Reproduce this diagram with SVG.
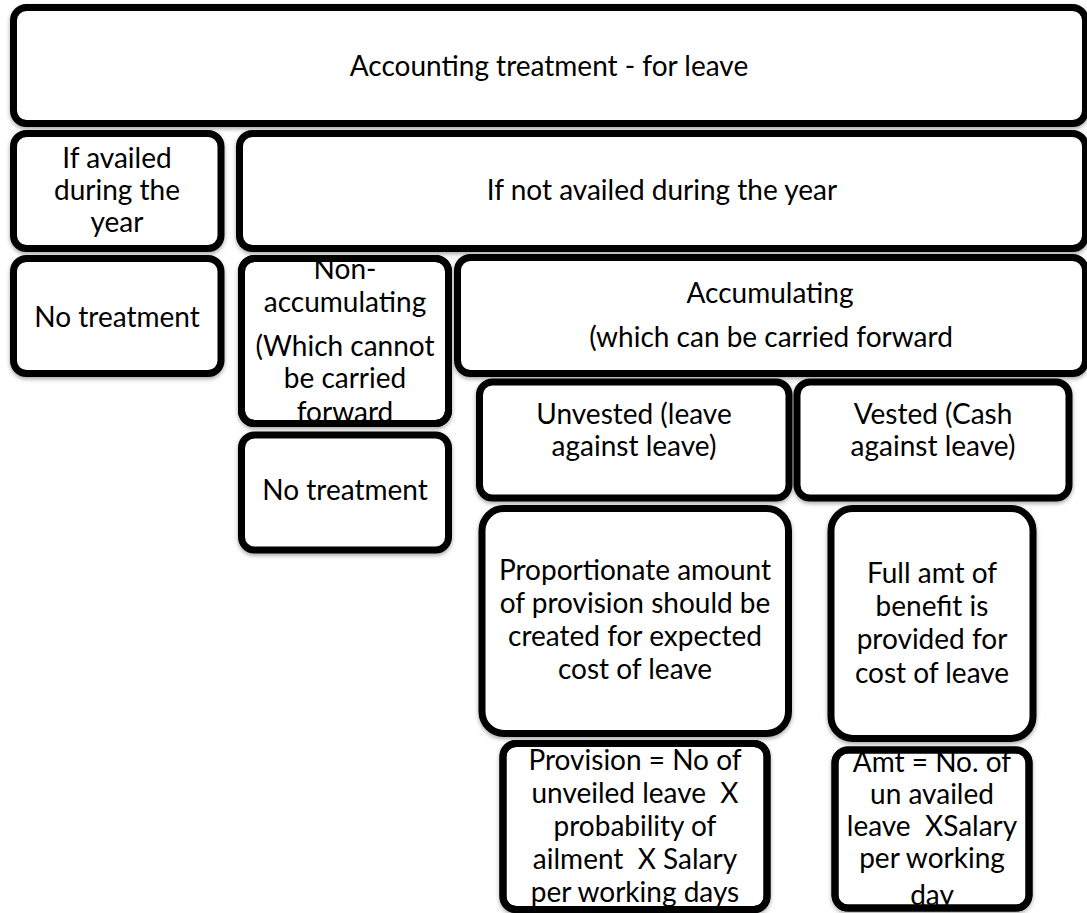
<svg xmlns="http://www.w3.org/2000/svg" width="1087" height="913" viewBox="0 0 1087 913">
<defs>
<filter id="sh" x="-5%" y="-5%" width="110%" height="115%">
<feDropShadow dx="0" dy="2" stdDeviation="2" flood-color="#000" flood-opacity="0.35"/>
</filter>
<style>
.bg{fill:#fff;stroke:#000;stroke-width:7;filter:url(#sh)}
.bd{fill:none;stroke:#000;stroke-width:7}
text{font-family:Lato,"Open Sans","Liberation Sans",sans-serif;font-size:28px;fill:#000;text-anchor:middle;white-space:pre}
</style>
</defs>
<rect width="1087" height="913" fill="#fff"/>
<g id="connectors"/>
<g id="n-top">
<rect class="bg" x="13.5" y="7.5" width="1072" height="116" rx="13"/>
<text x="549" y="76">Accounting treatment - for leave</text>
</g>
<g id="n-availed">
<rect class="bg" x="13.5" y="133.5" width="207.5" height="115" rx="13"/>
<text x="117" y="168">If availed</text>
<text x="117" y="200">during the</text>
<text x="117" y="232">year</text>
</g>
<g id="n-notavailed">
<rect class="bg" x="239.5" y="133.5" width="846" height="115" rx="13"/>
<text x="662" y="200">If not availed during the year</text>
</g>
<g id="n-notreat1">
<rect class="bg" x="13.5" y="258.5" width="207.5" height="115" rx="13"/>
<text x="117" y="327">No treatment</text>
</g>
<g id="n-nonacc">
<rect class="bg" x="241.5" y="258.5" width="207" height="165" rx="13"/>
<text x="345" y="279">Non-</text>
<text x="345" y="312">accumulating</text>
<text x="345" y="356">(Which cannot</text>
<text x="345" y="388">be carried</text>
<text x="345" y="422">forward</text>
<rect class="bd" x="241.5" y="258.5" width="207" height="165" rx="13"/>
</g>
<g id="n-notreat2">
<rect class="bg" x="241.5" y="435" width="207" height="115" rx="13"/>
<text x="345" y="500">No treatment</text>
</g>
<g id="n-acc">
<rect class="bg" x="457.5" y="257.5" width="628" height="116" rx="13"/>
<text x="770" y="303">Accumulating</text>
<text x="771" y="347">(which can be carried forward</text>
</g>
<g id="n-unvested">
<rect class="bg" x="479.5" y="382" width="309.5" height="116" rx="13"/>
<text x="634" y="424">Unvested (leave</text>
<text x="634" y="456">against leave)</text>
</g>
<g id="n-vested">
<rect class="bg" x="797" y="382" width="272" height="116" rx="13"/>
<text x="933" y="424">Vested (Cash</text>
<text x="933" y="456">against leave)</text>
</g>
<g id="n-proportionate">
<rect class="bg" x="482" y="508.5" width="306.5" height="225" rx="22"/>
<text x="635" y="580">Proportionate amount</text>
<text x="635" y="613">of provision should be</text>
<text x="635" y="646">created for expected</text>
<text x="635" y="679">cost of leave</text>
</g>
<g id="n-fullamt">
<rect class="bg" x="831" y="508.5" width="202" height="230" rx="22"/>
<text x="932" y="583">Full amt of</text>
<text x="932" y="616">benefit is</text>
<text x="932" y="649">provided for</text>
<text x="932" y="683">cost of leave</text>
</g>
<g id="n-provision">
<rect class="bg" x="503" y="743.5" width="264" height="166" rx="13"/>
<text x="635" y="770">Provision = No of</text>
<text x="635" y="803" xml:space="preserve">unveiled leave  X</text>
<text x="635" y="836">probability of</text>
<text x="635" y="869" xml:space="preserve">ailment  X Salary</text>
<text x="635" y="902">per working days</text>
<rect class="bd" x="503" y="743.5" width="264" height="166" rx="13"/>
</g>
<g id="n-amt">
<rect class="bg" x="835" y="750" width="194" height="158" rx="13"/>
<text x="932" y="772">Amt = No. of</text>
<text x="932" y="804">un availed</text>
<text x="932" y="836" xml:space="preserve">leave  XSalary</text>
<text x="932" y="868">per working</text>
<text x="932" y="905">day</text>
<rect class="bd" x="835" y="750" width="194" height="158" rx="13"/>
</g>
</svg>
